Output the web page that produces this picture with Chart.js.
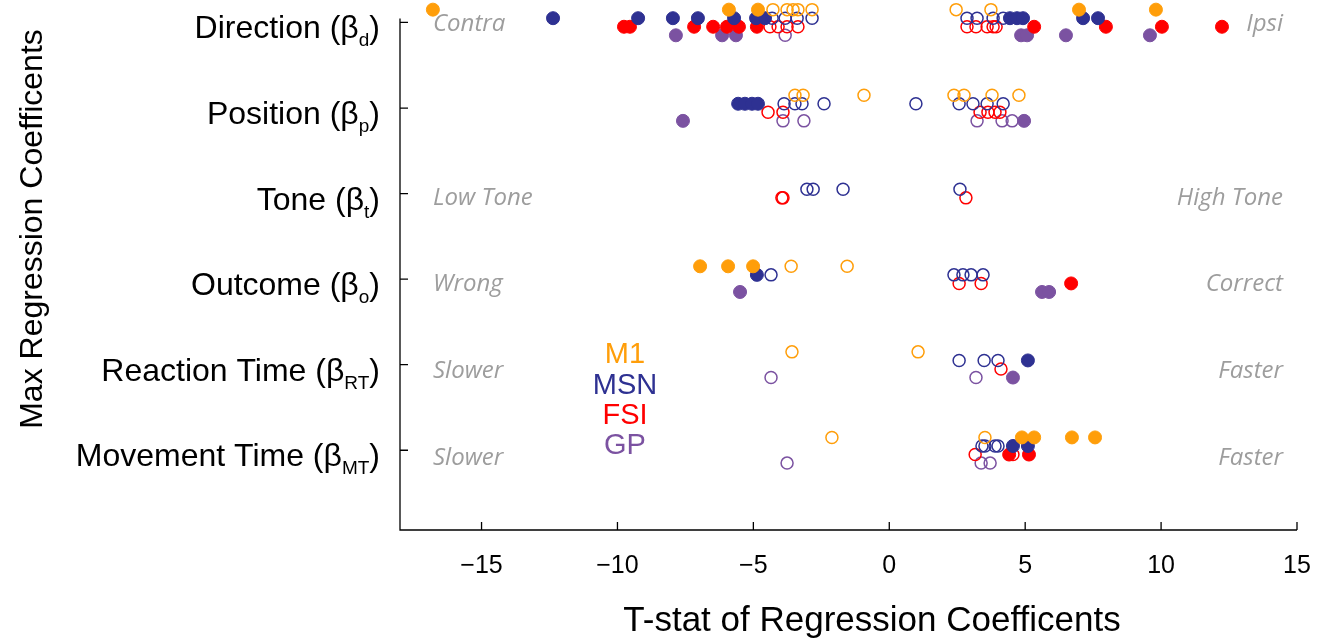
<!DOCTYPE html>
<html>
<head>
<meta charset="utf-8">
<script src="https://cdn.jsdelivr.net/npm/chart.js@4.4.0/dist/chart.umd.min.js"></script>
<style>
  html, body { margin: 0; padding: 0; background: #fff; }
  #wrap { width: 1331px; height: 639px; }
</style>
</head>
<body>
<div id="wrap"><canvas id="coefChart" width="1331" height="639"></canvas></div>
<script>
// regressors, top row first
const regressors = ['Direction', 'Position', 'Tone', 'Outcome', 'Reaction Time', 'Movement Time'];
const regressorSubs = ['d', 'p', 't', 'o', 'RT', 'MT'];
const xTicks = [-15, -10, -5, 0, 5, 10, 15];
const leftCues = ['Contra', '', 'Low Tone', 'Wrong', 'Slower', 'Slower'];
const rightCues = ['Ipsi', '', 'High Tone', 'Correct', 'Faster', 'Faster'];
const cellTypes = ['M1', 'MSN', 'FSI', 'GP'];

// max t-stat per unit, one list per regressor; filled = significant, open = not
const m1Filled = [[-16.79, -5.9, -4.83, 6.98, 9.81], [], [], [-6.96, -5.93, -5.01], [], [4.88, 5.33, 6.72, 7.57]];
const m1Open = [[-4.28, -3.76, -3.54, -3.36, -2.84, 2.46, 3.74], [-3.47, -3.17, -0.93, 2.38, 2.75, 3.78, 4.77], [], [-3.61, -1.55], [-3.58, 1.06], [-2.11, 3.52]];
const msnFilled = [[-12.37, -9.24, -7.96, -7.04, -5.71, -4.9, -4.57, 4.44, 4.7, 4.92, 7.13, 7.68], [-5.56, -5.31, -5.05, -4.83], [], [-4.87], [5.1], [4.55, 5.1]];
const msnOpen = [[-4.31, -3.83, -3.39, -2.84, 2.86, 3.23, 3.82, 4.19], [-3.87, -3.47, -3.21, -2.4, 0.98, 2.57, 3.08, 3.6, 4.19], [-3.03, -2.8, -1.7, 2.6], [-4.35, 2.38, 2.71, 3.01, 3.45], [2.57, 3.49, 4.0], [3.41, 3.52, 3.89, 4.0]];
const fsiFilled = [[-9.76, -9.54, -7.18, -6.48, -5.97, -5.53, -4.87, 5.33, 7.97, 10.03, 12.24], [], [], [6.69], [], [4.41, 5.14]];
const fsiOpen = [[-4.39, -4.09, -3.76, -3.36, 2.86, 3.19, 3.6, 3.82, 3.93], [-4.46, -3.91, 3.34, 3.63, 3.89, 4.07], [-3.95, -3.91, 2.82], [2.57, 3.38], [4.11], [3.16, 4.55]];
const gpFilled = [[-7.85, -6.15, -5.64, 4.85, 5.07, 6.5, 9.59], [-7.59, 4.96], [], [-5.49, 5.62, 5.88], [4.55], []];
const gpOpen = [[-3.83], [-3.91, -3.14, 3.23, 4.15, 4.52], [], [], [-4.35, 3.19], [-3.76, 3.38, 3.71]];

const filledSets = [m1Filled, msnFilled, fsiFilled, gpFilled];
const openSets = [m1Open, msnOpen, fsiOpen, gpOpen];
const cellColors = ['#FF9E0A', '#2E3192', '#FF0000', '#7B52A1'];
const rowShift = [0.15, 0.05, -0.05, -0.15]; // spread cell types within a row
const cueGray = '#9D9D9D';
const FONT = '"Liberation Sans", Arial, sans-serif';

// row 0 (Direction) sits at y = 6, last row at y = 1
function toPoints(lists, g) {
  const pts = [];
  lists.forEach((vals, r) => {
    vals.forEach(t => pts.push({ x: t, y: regressors.length - r + rowShift[g] }));
  });
  return pts;
}

const datasets = [];
cellTypes.forEach((name, g) => {
  datasets.push({
    label: name + ' n.s.',
    data: toPoints(openSets[g], g),
    pointRadius: 6,
    pointBorderWidth: 1.5,
    pointBorderColor: cellColors[g],
    pointBackgroundColor: 'rgba(0,0,0,0)',
    showLine: false,
    clip: false
  });
  datasets.push({
    label: name,
    data: toPoints(filledSets[g], g),
    pointRadius: 6.5,
    pointBorderWidth: 1,
    pointBorderColor: cellColors[g],
    pointBackgroundColor: cellColors[g],
    showLine: false,
    clip: false
  });
});

function drawRowLabel(ctx, main, sub, right, y) {
  ctx.textAlign = 'right';
  ctx.textBaseline = 'alphabetic';
  ctx.font = '32px ' + FONT;
  ctx.fillText(')', right, y);
  const closeW = ctx.measureText(')').width;
  ctx.font = '19px ' + FONT;
  ctx.fillText(sub, right - closeW, y + 8);
  const subW = ctx.measureText(sub).width;
  ctx.font = '32px ' + FONT;
  ctx.fillText(main + ' (\u03B2', right - closeW - subW, y);
}

// axes with inward ticks, drawn under the points
const axesPlugin = {
  id: 'axesPlugin',
  beforeDatasetsDraw(chart) {
    const { ctx, chartArea: a, scales: { x, y } } = chart;
    const top = y.getPixelForValue(regressors.length);
    ctx.save();
    ctx.strokeStyle = '#000';
    ctx.lineWidth = 1.3;
    ctx.beginPath();
    ctx.moveTo(a.left, top - 4);
    ctx.lineTo(a.left, a.bottom);
    ctx.lineTo(a.right, a.bottom);
    xTicks.forEach(v => {
      const px = x.getPixelForValue(v);
      ctx.moveTo(px, a.bottom);
      ctx.lineTo(px, a.bottom - 8);
    });
    regressors.forEach((r, i) => {
      const py = y.getPixelForValue(regressors.length - i);
      ctx.moveTo(a.left, py);
      ctx.lineTo(a.left + 8, py);
    });
    ctx.stroke();
    ctx.restore();
  },
  afterDraw(chart) {
    const { ctx, scales: { x, y } } = chart;
    ctx.save();
    ctx.fillStyle = '#000';

    // x tick labels
    ctx.font = '25px ' + FONT;
    ctx.textAlign = 'center';
    ctx.textBaseline = 'middle';
    xTicks.forEach(v => {
      const txt = v < 0 ? '\u2212' + Math.abs(v) : String(v);
      ctx.fillText(txt, x.getPixelForValue(v), 566);
    });

    // axis titles
    ctx.font = '35px ' + FONT;
    ctx.textBaseline = 'alphabetic';
    ctx.fillText('T-stat of Regression Coefficents', 872, 631);
    ctx.font = '32px ' + FONT;
    ctx.save();
    ctx.translate(42, 229);
    ctx.rotate(-Math.PI / 2);
    ctx.fillText('Max Regression Coefficents', 0, 0);
    ctx.restore();

    // row labels and direction cues
    regressors.forEach((r, i) => {
      const py = y.getPixelForValue(regressors.length - i);
      ctx.fillStyle = '#000';
      drawRowLabel(ctx, r, regressorSubs[i], 380, py + 16);
      ctx.fillStyle = cueGray;
      ctx.font = 'italic 24px "Open Sans", sans-serif';
      ctx.textBaseline = 'middle';
      const cueY = py + 2 + i * 1.1;
      ctx.textAlign = 'left';
      if (leftCues[i]) ctx.fillText(leftCues[i], 433, cueY);
      ctx.textAlign = 'right';
      if (rightCues[i]) ctx.fillText(rightCues[i], 1283, cueY);
    });

    // cell type key
    ctx.font = '29px ' + FONT;
    ctx.textAlign = 'center';
    ctx.textBaseline = 'middle';
    const keyY = [355, 386, 416, 446];
    cellTypes.forEach((name, g) => {
      ctx.fillStyle = cellColors[g];
      ctx.fillText(name, 625, keyY[g]);
    });
    ctx.restore();
  }
};

new Chart(document.getElementById('coefChart'), {
  type: 'scatter',
  data: { datasets: datasets },
  options: {
    responsive: false,
    animation: false,
    devicePixelRatio: 1,
    layout: { autoPadding: false, padding: { left: 400, right: 34, top: 1, bottom: 109 } },
    scales: {
      x: { type: 'linear', min: -18, max: 15, display: false },
      y: { type: 'linear', min: 0.068, max: 6.251, display: false }
    },
    plugins: { legend: { display: false }, tooltip: { enabled: false } }
  },
  plugins: [axesPlugin]
});
</script>
</body>
</html>
